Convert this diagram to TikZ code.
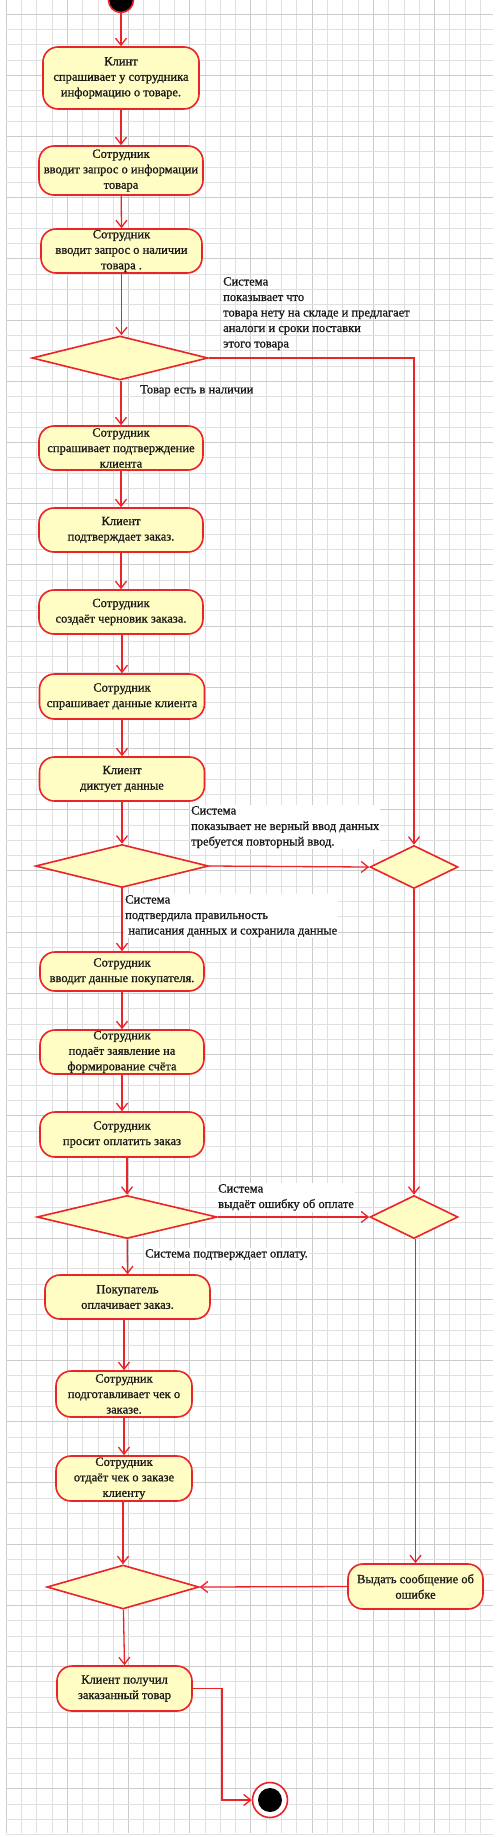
\documentclass[tikz,border=0pt]{standalone}
\usepackage{fontspec}
\setmainfont{Liberation Serif}[BoldFont={Liberation Serif},BoldFeatures={FakeBold=0.9}]
\usetikzlibrary{arrows.meta,shapes.geometric}
\definecolor{boxfill}{RGB}{255,253,196}
\definecolor{redc}{RGB}{234,36,40}
\definecolor{gridc}{RGB}{224,224,224}
\definecolor{gridm}{RGB}{204,204,204}
\definecolor{txt}{RGB}{25,25,25}
\tikzset{
  box/.style={draw=redc, line width=1.6pt, fill=boxfill, rounded corners=15pt,
    align=center, inner sep=0pt, text=txt, font=\fontsize{12.5}{15.5}\selectfont\bfseries},
  dia/.style={diamond, draw=redc, line width=1.6pt, fill=boxfill, inner sep=0pt},
  arr/.style={draw=redc, line width=1.3pt, -{Straight Barb[length=7pt,width=11pt,line width=1.3pt]}},
  lab/.style={align=left, inner sep=1pt, text=txt, font=\fontsize{12.5}{15.5}\selectfont\bfseries, anchor=north west},
  labw/.style={lab, fill=white},
}
\begin{document}
\begin{tikzpicture}[x=1pt,y=-1pt]
\useasboundingbox (0,0) rectangle (500,1837);
\fill[white] (0,0) rectangle (500,1837);
% grid
\foreach \i in {0,...,31} {
  \pgfmathsetmacro{\xx}{6+15.3*\i}
  \pgfmathtruncatemacro{\m}{mod(\i,4)}
  \ifnum\m=0 \draw[gridm, line width=0.7pt] (\xx,0) -- (\xx,1833);
  \else \draw[gridc, line width=0.6pt] (\xx,0) -- (\xx,1833); \fi
}
\foreach \j in {0,...,119} {
  \pgfmathsetmacro{\yy}{14+15.3*\j}
  \pgfmathtruncatemacro{\m}{mod(\j,4)}
  \ifnum\m=0 \draw[gridm, line width=0.7pt] (6,\yy) -- (493,\yy);
  \else \draw[gridc, line width=0.6pt] (6,\yy) -- (493,\yy); \fi
}

% start
\node[circle, fill=black, draw=redc, line width=1.6pt, minimum size=25pt, inner sep=0pt] (start) at (121,0) {};

% left column
\node[box, minimum width=156pt, minimum height=62pt] (b1) at (121,78) {Клинт\\спрашивает у сотрудника\\информацию о товаре.};
\node[box, minimum width=164pt, minimum height=49pt] (b2) at (121,170.5) {Сотрудник\\вводит запрос о информации\\товара};
\node[box, minimum width=161pt, minimum height=44pt] (b3) at (121.5,251) {Сотрудник\\вводит запрос о наличии\\товара .};
\node[dia, minimum width=176pt, minimum height=44pt] (d1) at (120,358) {};
\node[box, minimum width=164pt, minimum height=44pt] (b4) at (121,448) {Сотрудник\\спрашивает подтверждение\\клиента};
\node[box, minimum width=164pt, minimum height=44pt] (b5) at (121,530) {Клиент\\подтверждает заказ.};
\node[box, minimum width=164pt, minimum height=44pt] (b6) at (121,612) {Сотрудник\\создаёт черновик заказа.};
\node[box, minimum width=165pt, minimum height=45pt] (b7) at (122,696.5) {Сотрудник\\спрашивает данные клиента};
\node[box, minimum width=165pt, minimum height=44pt] (b8) at (122,779) {Клиент\\диктует данные};
\node[dia, minimum width=173pt, minimum height=43pt] (d2) at (122,866) {};
\node[box, minimum width=164pt, minimum height=39pt] (b9) at (122,971.5) {Сотрудник\\вводит данные покупателя.};
\node[box, minimum width=164pt, minimum height=44pt] (b10) at (122,1052) {Сотрудник\\подаёт заявление на\\формирование счёта};
\node[box, minimum width=164pt, minimum height=45pt] (b11) at (122,1134.5) {Сотрудник\\просит оплатить заказ};
\node[dia, minimum width=180pt, minimum height=43pt] (d3) at (127,1217) {};
\node[box, minimum width=165pt, minimum height=44pt] (b12) at (127.5,1297) {Покупатель\\оплачивает заказ.};
\node[box, minimum width=136pt, minimum height=46pt] (b13) at (124,1394) {Сотрудник\\подготавливает чек о\\заказе.};
\node[box, minimum width=136pt, minimum height=45pt] (b14) at (124,1478.5) {Сотрудник\\отдаёт чек о заказе\\клиенту};
\node[dia, minimum width=152pt, minimum height=44pt] (d4) at (123,1587) {};
\node[box, minimum width=135pt, minimum height=45pt] (b16) at (124.5,1688.5) {Клиент получил\\заказанный товар};

% right column
\node[dia, minimum width=88pt, minimum height=43pt] (r1) at (414,867) {};
\node[dia, minimum width=88pt, minimum height=43pt] (r2) at (414,1217) {};
\node[box, minimum width=135pt, minimum height=45pt] (b15) at (415.5,1586.5) {Выдать сообщение об\\ошибке};

% end
\node[circle, draw=redc, line width=1.6pt, fill=white, minimum size=35pt, inner sep=0pt] (end) at (270,1800) {};
\node[circle, fill=black, minimum size=24pt, inner sep=0pt] (endin) at (end.center) {};
\coordinate (bend) at (222,1688.5);

% labels
\node[lab] (l1) at (222,276) {Система\\показывает что\\товара нету на складе и предлагает\\аналоги и сроки поставки\\этого товара};
\node[lab] (l2) at (139,384) {Товар есть в наличии};
\node[labw] (l3) at (190,805) {Система\\показывает не верный ввод данных\\требуется повторный ввод.};
\node[labw] (l4) at (124,894) {Система\\подтвердила правильность\\\ написания данных и сохранила данные};
\node[labw] (l5) at (217,1183) {Система\\выдаёт ошибку об оплате};
\node[labw] (l6) at (144,1248) {Система подтверждает оплату.};

% connectors
\draw[arr] (start) -- (b1.north);
\draw[arr] (b1) -- (b2.north);
\draw[arr] (b2) -- (b3.north);
\draw[arr] (b3.south) -- (b3.south |- d1.north);
\draw[arr] (d1.south -| b4.north) -- (b4.north);
\draw[arr] (b4) -- (b5.north);
\draw[arr] (b5) -- (b6.north);
\draw[arr] (b6.south -| b7.north) -- (b7.north);
\draw[arr] (b7) -- (b8.north);
\draw[arr] (b8) -- (d2.north);
\draw[arr] (d2) -- (b9.north);
\draw[arr] (b9) -- (b10.north);
\draw[arr] (b10) -- (b11.north);
\draw[arr] (b11.south -| d3.north) -- (d3.north);
\draw[arr] (d3) -- (b12.north);
\draw[arr] (b12.south -| b13.north) -- (b13.north);
\draw[arr] (b13) -- (b14.north);
\draw[arr] (b14.south -| d4.north) -- (d4.north);
\draw[arr] (d4) -- (b16.north);
\draw[arr] (b16.east) -- (bend) |- (end.west);

\draw[arr] (d1.east) -| (r1.north);
\draw[arr] (d2.east) -- (r1.west);
\draw[arr] (r1.south) -- (r2.north);
\draw[arr] (d3.east) -- (r2.west);
\draw[arr] (r2.south -| b15.north) -- (b15.north);
\draw[arr] (b15.west) -- (d4.east);
\end{tikzpicture}
\end{document}
